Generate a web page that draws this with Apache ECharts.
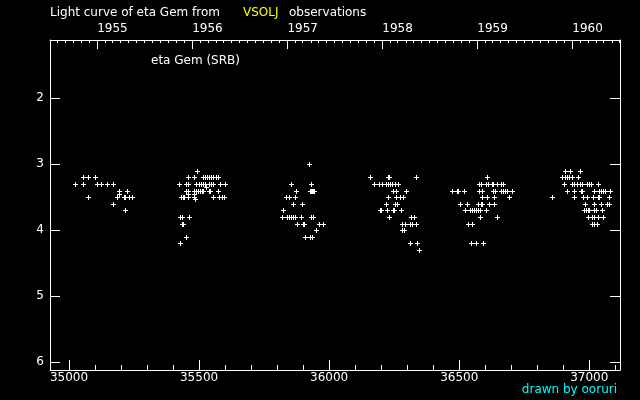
<!DOCTYPE html>
<html>
<head>
<meta charset="utf-8">
<script src="https://cdn.jsdelivr.net/npm/echarts@6/dist/echarts.min.js"></script>
<style>
html,body{margin:0;padding:0;background:#000;}
#chart{width:640px;height:400px;}
</style>
</head>
<body>
<div id="chart"></div>
<script>
// ---- data: [JD - 2400000, magnitude] ----
const season1955 = [
  [35024,3.3],[35055,3.2],[35074,3.2],[35101,3.2],[35055,3.3],[35106,3.3],[35124,3.3],
  [35147,3.3],[35170,3.3],[35074,3.5],[35193,3.4],[35193,3.45],[35224,3.4],[35183,3.5],
  [35213,3.5],[35216,3.5],[35232,3.5],[35241,3.5],[35170,3.6],[35216,3.7]
];
const season1956 = [
  [35493,3.1],
  [35458,3.2],[35482,3.2],[35516,3.2],[35524,3.2],[35532,3.2],[35539,3.2],[35547,3.2],[35555,3.2],[35566,3.2],[35574,3.2],
  [35424,3.3],[35451,3.3],[35458,3.3],[35489,3.3],[35501,3.3],[35508,3.3],[35516,3.3],[35524,3.3],[35539,3.3],[35547,3.3],[35555,3.3],[35581,3.3],[35601,3.3],
  [35528,3.35],[35539,3.4],[35543,3.4],
  [35451,3.4],[35458,3.4],[35482,3.4],[35489,3.4],[35497,3.4],[35505,3.4],[35512,3.4],[35516,3.4],[35574,3.4],
  [35482,3.45],[35458,3.45],
  [35432,3.5],[35439,3.5],[35443,3.5],[35458,3.5],[35555,3.5],[35578,3.5],[35589,3.5],[35597,3.5],[35482,3.5],[35485,3.52],
  [35428,3.8],[35435,3.8],[35462,3.8],
  [35435,3.9],[35439,3.9],
  [35451,4.1],[35428,4.2]
];
const season1957 = [
  [35924,3.0],[35854,3.3],[35931,3.3],[35874,3.4],
  [35927,3.4],[35931,3.4],[35935,3.4],[35939,3.4],[35943,3.4],
  [35835,3.5],[35847,3.5],[35870,3.5],
  [35862,3.6],[35897,3.6],[35824,3.7],
  [35820,3.8],[35839,3.8],[35847,3.8],[35854,3.8],[35862,3.8],[35870,3.8],[35893,3.8],[35931,3.8],[35939,3.8],
  [35877,3.9],[35900,3.9],[35904,3.9],[35962,3.9],[35977,3.9],
  [35950,4.0],[35908,4.1],[35927,4.1],[35935,4.1]
];
const season1958 = [
  [36158,3.2],[36227,3.2],[36231,3.2],[36335,3.2],
  [36173,3.3],[36193,3.3],[36204,3.3],[36219,3.3],[36227,3.3],[36235,3.3],[36242,3.3],[36254,3.3],[36266,3.3],
  [36246,3.4],[36258,3.4],[36296,3.4],
  [36227,3.5],[36258,3.5],[36273,3.5],[36285,3.5],
  [36219,3.6],[36254,3.6],[36262,3.6],
  [36196,3.7],[36200,3.7],[36223,3.7],[36246,3.7],[36250,3.7],[36277,3.7],
  [36231,3.8],[36315,3.8],[36327,3.8],
  [36281,3.9],[36292,3.9],[36312,3.9],[36319,3.9],[36335,3.9],
  [36281,4.0],[36289,4.0],
  [36312,4.2],[36339,4.2],[36346,4.3]
];
const season1959 = [
  [36605,3.2],
  [36577,3.3],[36585,3.3],[36604,3.3],[36612,3.3],[36627,3.3],[36631,3.3],[36646,3.3],[36662,3.3],[36669,3.3],
  [36473,3.4],[36492,3.4],[36496,3.4],[36519,3.4],[36577,3.4],[36588,3.4],[36631,3.4],[36639,3.4],[36662,3.4],[36669,3.4],[36677,3.4],[36685,3.4],[36704,3.4],
  [36588,3.5],[36608,3.5],[36635,3.5],[36692,3.5],
  [36504,3.6],[36531,3.6],[36573,3.6],[36585,3.6],[36588,3.6],[36615,3.6],[36635,3.6],
  [36523,3.7],[36542,3.7],[36550,3.7],[36558,3.7],[36565,3.7],[36573,3.7],[36581,3.7],[36604,3.7],
  [36580,3.8],[36646,3.8],
  [36535,3.9],[36550,3.9],
  [36546,4.2],[36565,4.2],[36592,4.2]
];
const season1960 = [
  [36857,3.5],
  [36907,3.1],[36927,3.1],[36965,3.1],
  [36896,3.2],[36907,3.2],[36915,3.2],[36923,3.2],[36934,3.2],[36957,3.2],
  [36904,3.3],[36934,3.3],[36942,3.3],[36953,3.3],[36965,3.3],[36973,3.3],[36992,3.3],[37000,3.3],[37008,3.3],[37034,3.3],
  [36915,3.4],[36942,3.4],[36969,3.4],[36973,3.4],[37019,3.4],[37038,3.4],[37046,3.4],[37054,3.4],[37061,3.4],[37081,3.4],
  [36942,3.5],[36977,3.5],[36992,3.5],[37015,3.5],[37034,3.5],[37038,3.5],[37077,3.5],
  [36984,3.6],[37019,3.6],[37046,3.6],[37069,3.6],[37077,3.6],
  [36980,3.7],[36988,3.7],[36996,3.7],[37000,3.7],[37019,3.7],[37027,3.7],[37050,3.7],
  [36996,3.8],[37011,3.8],[37019,3.8],[37034,3.8],[37054,3.8],
  [37011,3.9],[37019,3.9],[37031,3.9]
];

// ---- ticks / labels ----
const jdTicks = [35000, 35500, 36000, 36500, 37000];
const jdMinorTicks = [35100,35200,35300,35400,35600,35700,35800,35900,36100,36200,36300,36400,36600,36700,36800,36900,37100];
const magTicks = [2, 3, 4, 5, 6];
const years = [1955, 1956, 1957, 1958, 1959, 1960];

const JD_MIN = 34927, JD_MAX = 37118;
const MAG_MIN = 1.117, MAG_MAX = 6.117;

// calendar date -> JD - 2400000
function dateToJd(y, m) { return Date.UTC(y, m, 1) / 86400000 + 40587.5; }
function jdToYear(v) { return new Date((v - 40587.5) * 86400000 + 3600000).getUTCFullYear(); }

const yearTicks = years.map(y => dateToJd(y, 0));
const monthTicks = [];
for (let y = years[0] - 1; y <= years[years.length - 1]; y++) {
  for (let m = 1; m < 12; m++) {
    const v = dateToJd(y, m);
    if (v > JD_MIN && v < JD_MAX) monthTicks.push(v);
  }
}

const FONT = 'DejaVu Sans';
const white = '#ffffff';

const allPoints = [].concat(season1955, season1956, season1957, season1958, season1959, season1960);

function xAx(opts) {
  return Object.assign({
    type: 'value', min: JD_MIN, max: JD_MAX,
    splitLine: { show: false },
    axisLine: { show: true, onZero: false, lineStyle: { color: white, width: 1 } },
    axisTick: { show: false },
    axisLabel: { show: false }
  }, opts);
}

function renderPlus(params, api) {
  const p = api.coord([api.value(0), api.value(1)]);
  const x = Math.round(p[0]), y = Math.round(p[1]);
  return {
    type: 'group',
    children: [
      { type: 'rect', shape: { x: x - 2, y: y, width: 5, height: 1 }, style: { fill: white } },
      { type: 'rect', shape: { x: x, y: y - 2, width: 1, height: 5 }, style: { fill: white } }
    ]
  };
}

const chart = echarts.init(document.getElementById('chart'), null, { renderer: 'canvas' });
chart.setOption({
  backgroundColor: '#000000',
  animation: false,
  grid: { left: 50, right: 20, top: 40, bottom: 30 },
  xAxis: [
    xAx({
      position: 'bottom',
      axisTick: { show: true, inside: true, length: 10, customValues: jdTicks, lineStyle: { color: white } },
      axisLabel: { show: true, customValues: jdTicks, color: white, fontFamily: FONT, fontSize: 12, margin: 2,
        formatter: v => String(Math.round(v)) }
    }),
    xAx({
      position: 'bottom',
      axisLine: { show: false },
      axisTick: { show: true, inside: true, length: 5, customValues: jdMinorTicks, lineStyle: { color: white } }
    }),
    xAx({
      position: 'top',
      axisTick: { show: true, inside: true, length: 9, customValues: yearTicks, lineStyle: { color: white } },
      axisLabel: { show: true, customValues: yearTicks, color: white, fontFamily: FONT, fontSize: 12, margin: 5, align: 'left',
        formatter: v => String(jdToYear(v)) }
    }),
    xAx({
      position: 'top',
      axisLine: { show: false },
      axisTick: { show: true, inside: true, length: 3, customValues: monthTicks, lineStyle: { color: white } }
    })
  ],
  yAxis: [
    {
      type: 'value', inverse: true, min: MAG_MIN, max: MAG_MAX, position: 'left',
      splitLine: { show: false },
      axisLine: { show: true, onZero: false, lineStyle: { color: white } },
      axisTick: { show: true, inside: true, length: 10, customValues: magTicks, lineStyle: { color: white } },
      axisLabel: { show: true, customValues: magTicks, color: white, fontFamily: FONT, fontSize: 12, margin: 6 }
    },
    {
      type: 'value', inverse: true, min: MAG_MIN, max: MAG_MAX, position: 'right',
      splitLine: { show: false },
      axisLine: { show: true, onZero: false, lineStyle: { color: white } },
      axisTick: { show: true, inside: true, length: 10, customValues: magTicks, lineStyle: { color: white } },
      axisLabel: { show: false }
    }
  ],
  series: [{
    type: 'custom',
    xAxisIndex: 0, yAxisIndex: 0,
    data: allPoints,
    renderItem: renderPlus,
    silent: true
  }],
  graphic: [
    { type: 'text', left: 50, top: 7, style: { text: 'Light curve of eta Gem from', fill: white, font: '12px "DejaVu Sans"' } },
    { type: 'text', left: 243, top: 7, style: { text: 'VSOLJ', fill: '#ffff00', font: '12px "DejaVu Sans"' } },
    { type: 'text', left: 289, top: 7, style: { text: 'observations', fill: white, font: '12px "DejaVu Sans"' } },
    { type: 'text', left: 151, top: 55, style: { text: 'eta Gem (SRB)', fill: white, font: '12px "DejaVu Sans"' } },
    { type: 'text', right: 23, top: 384, style: { text: 'drawn by ooruri', fill: '#00ffff', font: '12px "DejaVu Sans"' } }
  ]
});
</script>
</body>
</html>
